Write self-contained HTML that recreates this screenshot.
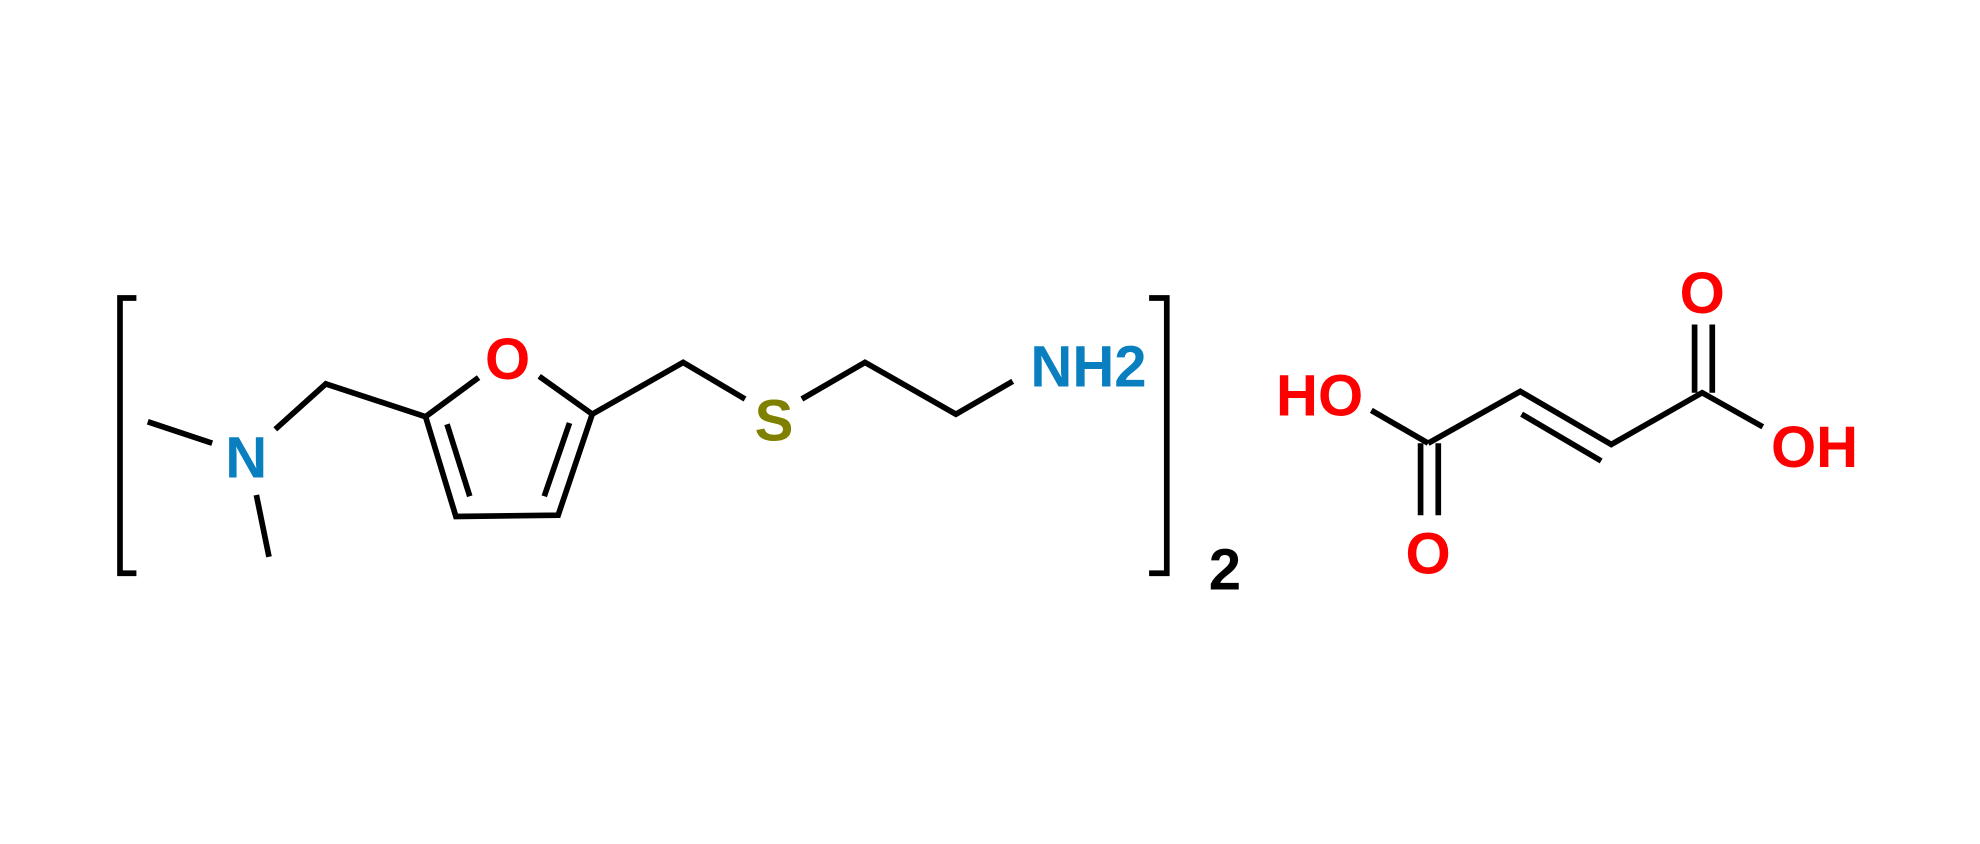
<!DOCTYPE html>
<html><head><meta charset="utf-8"><style>html,body{margin:0;padding:0;background:#fff}svg{display:block}</style></head><body>
<svg width="1980" height="844" viewBox="0 0 1568 668.4" xmlns="http://www.w3.org/2000/svg">
<g stroke="#000" stroke-width="4.5" fill="none" stroke-linecap="butt" stroke-linejoin="miter">
<polyline points="108,236 95,236 95,454 108,454"/>
<polyline points="910,236 924,236 924,454 910,454"/>
<line x1="117" y1="334" x2="168" y2="351"/>
<line x1="203" y1="392" x2="213" y2="441"/>
<polyline points="218,340 258,304 337,330 379,299"/>
<polyline points="427,298 469,328 541,287 590,316"/>
<polyline points="337,330 361,409 442,408 469,328"/>
<line x1="354" y1="336" x2="372" y2="393"/>
<line x1="451" y1="335" x2="431" y2="393"/>
<polyline points="635,316 685,287 757,328 802,302"/>
<line x1="1086" y1="325" x2="1131" y2="351"/>
<line x1="1125" y1="351" x2="1125" y2="408"/>
<line x1="1139" y1="351" x2="1139" y2="408"/>
<polyline points="1131,351 1204,310 1276,352 1348,311 1396,338"/>
<line x1="1205" y1="328" x2="1268" y2="365"/>
<line x1="1342" y1="311" x2="1342" y2="257"/>
<line x1="1356" y1="311" x2="1356" y2="257"/>
</g>
<g font-family="Liberation Sans, sans-serif" font-weight="bold" font-size="46" text-anchor="middle">
<text x="195" y="378" fill="#0a7fc0">N</text>
<text x="402" y="300" fill="#f00">O</text>
<text x="613" y="349" fill="#808000">S</text>
<text x="862" y="306" fill="#0a7fc0">NH2</text>
<text x="970" y="467" fill="#000">2</text>
<text x="1045" y="329" fill="#f00">HO</text>
<text x="1131" y="454" fill="#f00">O</text>
<text x="1348" y="248" fill="#f00">O</text>
<text x="1437" y="370" fill="#f00">OH</text>
</g>
</svg>
</body></html>
